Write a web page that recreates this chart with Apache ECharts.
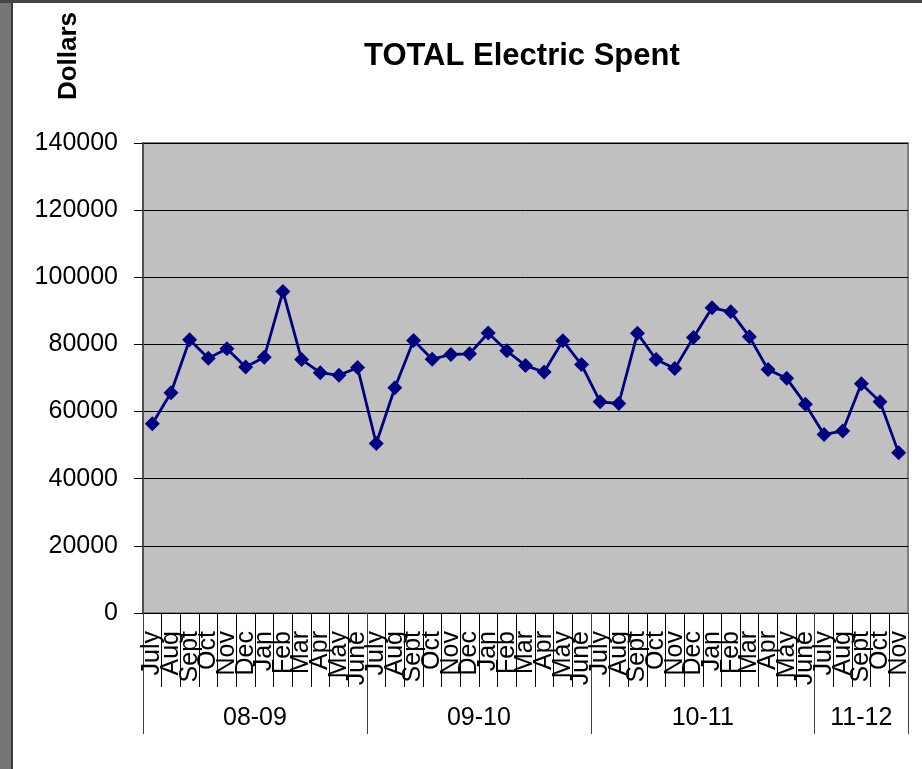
<!DOCTYPE html>
<html>
<head>
<meta charset="utf-8">
<script src="https://cdn.jsdelivr.net/npm/echarts@6/dist/echarts.min.js"></script>
<style>
html,body{margin:0;padding:0;background:#fff;}
#chart{width:922px;height:769px;}
</style>
</head>
<body>
<div id="chart"></div>
<script>
var monthNames = ['July','Aug','Sept','Oct','Nov','Dec','Jan','Feb','Mar','Apr','May','June'];
var groupLabels = ['08-09','09-10','10-11','11-12'];
var groupSizes = [12,12,12,5];
var yTicks = [0,20000,40000,60000,80000,100000,120000,140000];
var values = [
  56400,65600,81400,75900,78700,73300,76200,95800,75500,71600,70800,73100,
  50500,67100,81200,75600,77000,77200,83400,78100,73700,71800,81100,74000,
  62900,62400,83300,75500,72800,82100,90900,89700,82300,72500,69900,62200,
  53200,54200,68300,62900,47700
];

var categories = [];
groupSizes.forEach(function(n){ categories = categories.concat(monthNames.slice(0,n)); });
var groupBounds = [0], groupMids = [], acc = 0;
groupSizes.forEach(function(n){ groupMids.push(acc + n/2); acc += n; groupBounds.push(acc); });

var FONT = "'Liberation Sans', Arial, sans-serif";
var chart = echarts.init(document.getElementById('chart'));
chart.setOption({
  animation: false,
  backgroundColor: '#ffffff',
  title: {
    text: 'TOTAL Electric Spent',
    left: 359, top: 36,
    textStyle: {fontFamily: FONT, fontWeight: 'bold', fontSize: 31, color: '#000'}
  },
  graphic: [
    {type:'rect', shape:{x:0,y:0,width:11,height:769}, style:{fill:'#767676'}, z:100},
    {type:'rect', shape:{x:11,y:0,width:2,height:769}, style:{fill:'#3c3c3c'}, z:100},
    {type:'rect', shape:{x:0,y:0,width:922,height:3}, style:{fill:'#454545'}, z:100},
    {type:'text', x:69, y:56, rotation: Math.PI/2,
     style:{text:'Dollars', font:'bold 26px ' + FONT, fill:'#000', textAlign:'center', textVerticalAlign:'middle'}}
  ],
  grid: {
    left: 143, top: 143, right: 14, bottom: 156,
    show: true, backgroundColor: '#c0c0c0', borderColor: '#808080', borderWidth: 2
  },
  xAxis: [{
    type: 'category',
    data: categories,
    boundaryGap: true,
    axisLine: {lineStyle: {color: '#000', width: 1}},
    axisTick: {show: true, interval: 0, length: 74, lineStyle: {color: '#000', width: 1}},
    axisLabel: {interval: 0, rotate: 90, margin: 18, fontFamily: FONT, fontSize: 25, color: '#000'},
    splitLine: {show: false}
  }, {
    type: 'value',
    position: 'bottom',
    min: 0, max: categories.length,
    axisLine: {show: false},
    axisTick: {show: true, length: 121, customValues: groupBounds, lineStyle: {color: '#404040', width: 1}},
    axisLabel: {
      customValues: groupMids, margin: 93, fontFamily: FONT, fontSize: 25, color: '#000',
      formatter: function(v){ var i = groupMids.indexOf(v); return i >= 0 ? groupLabels[i] : ''; }
    },
    splitLine: {show: false}
  }],
  yAxis: {
    type: 'value',
    min: yTicks[0], max: yTicks[yTicks.length-1], interval: yTicks[1]-yTicks[0],
    axisLine: {show: true, lineStyle: {color: '#505050', width: 2}},
    axisTick: {show: true, inside: false, length: 9, lineStyle: {color: '#000', width: 1}},
    axisLabel: {margin: 25, fontFamily: FONT, fontSize: 25, color: '#000',
      formatter: function(v){ return String(v); }},
    splitLine: {show: true, lineStyle: {color: '#000', width: 1}}
  },
  series: [{
    type: 'line',
    data: values,
    xAxisIndex: 0,
    symbol: 'diamond',
    symbolSize: 15,
    lineStyle: {color: '#000080', width: 2.8},
    itemStyle: {color: '#000080'}
  }]
});
</script>
</body>
</html>
